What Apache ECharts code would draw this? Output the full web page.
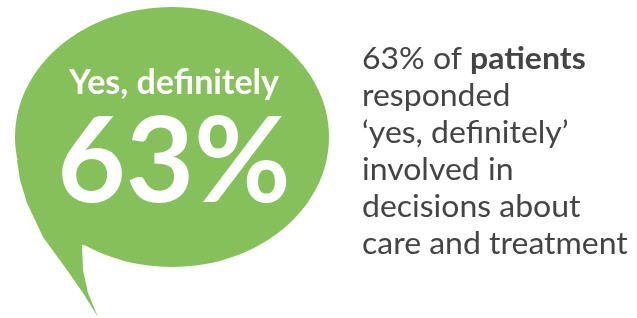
<!DOCTYPE html>
<html>
<head>
<meta charset="utf-8">
<script src="https://cdn.jsdelivr.net/npm/echarts@6/dist/echarts.min.js"></script>
<style>
  html, body { margin: 0; padding: 0; background: #fff; }
  #chart { width: 637px; height: 318px; }
</style>
</head>
<body>
<div id="chart"></div>
<script>
// data
const headline = 'Yes, definitely';
const percentValue = 63;
const descLines = [
  ['63% of ', 'patients'],
  ['responded'],
  ['\u2018yes, definitely\u2019'],
  ['involved in'],
  ['decisions about'],
  ['care and treatment']
];

const green = '#86c05a';
const chart = echarts.init(document.getElementById('chart'), null, { renderer: 'canvas' });

// 右侧说明文字
const descText = descLines.map(function (l) {
  return l.length > 1 ? l[0] + '{b|' + l[1] + '}' : l[0];
}).join('\n');

const option = {
  backgroundColor: '#fff',
  graphic: [
    // speech bubble tail
    {
      type: 'polygon',
      shape: {
        points: [[100, 160], [17, 160], [20, 180], [27, 203], [43, 237], [67, 270], [83, 293], [98, 317],
                 [88, 293], [83, 270], [82, 245], [150, 250]]
      },
      style: { fill: green }
    },
    {
      type: 'ellipse',
      shape: { cx: 172, cy: 137, rx: 157, ry: 130 },
      style: { fill: green }
    },
    {
      type: 'text',
      x: 174, y: 100,
      style: {
        text: headline,
        fill: '#fff',
        font: 'bold 34px Lato',
        align: 'center',
        verticalAlign: 'bottom'
      }
    },
    {
      type: 'text',
      x: 174, y: 164,
      style: {
        text: percentValue + '%',
        fill: '#fff',
        font: 'bold 118px Lato',
        align: 'center',
        verticalAlign: 'middle'
      }
    },
    {
      type: 'text',
      x: 362, y: 41,
      scaleX: 1.066,
      style: {
        text: descText,
        fill: '#444',
        font: '30px Lato',
        lineHeight: 37,
        rich: {
          b: { fontWeight: 'bold', fontSize: 30, fontFamily: 'Lato', fill: '#444', lineHeight: 37 }
        }
      }
    }
  ]
};
chart.setOption(option);
</script>
</body>
</html>
